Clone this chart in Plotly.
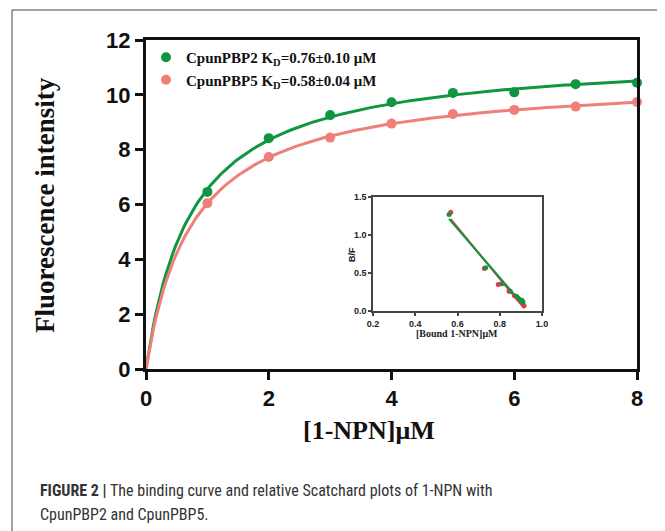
import numpy as np
import plotly.graph_objects as go

# ---- data ----
conc = [1, 2, 3, 4, 5, 6, 7, 8]
pbp2 = [6.46, 8.42, 9.26, 9.73, 10.07, 10.09, 10.39, 10.44]
pbp5 = [6.05, 7.73, 8.44, 8.95, 9.30, 9.45, 9.57, 9.74]

sc2_x = [0.560, 0.733, 0.810, 0.850, 0.880, 0.886, 0.905, 0.910]
sc2_y = [1.27, 0.57, 0.36, 0.26, 0.19, 0.17, 0.14, 0.12]
sc5_x = [0.568, 0.727, 0.793, 0.844, 0.870, 0.890, 0.905, 0.915]
sc5_y = [1.30, 0.56, 0.35, 0.26, 0.20, 0.16, 0.12, 0.07]

name2 = "CpunPBP2 K<sub>D</sub>=0.76±0.10 μM"
name5 = "CpunPBP5 K<sub>D</sub>=0.58±0.04 μM"

GREEN = "#0e9640"
PINK = "#ef7f78"
RED = "#e8344e"

OFF = 8  # page body margin
W, H = 665 - OFF, 531 - OFF


def px_x(p):
    return (p - OFF) / W


def px_y(p):
    return 1 - (p - OFF) / H


def hyper_fit(x, y):
    x = np.asarray(x, float)
    y = np.asarray(y, float)
    best = None
    for k in np.arange(0.05, 3.0, 0.001):
        g = x / (k + x)
        b = (y * g).sum() / (g * g).sum()
        err = ((y - b * g) ** 2).sum()
        if best is None or err < best[0]:
            best = (err, k, b)
    return best[1], best[2]


xs = np.linspace(0, 8, 200)
fig = go.Figure()

for ys, col, nm in [(pbp2, GREEN, name2), (pbp5, PINK, name5)]:
    k, b = hyper_fit(conc, ys)
    fig.add_trace(go.Scatter(x=xs, y=b * xs / (k + xs), mode="lines",
                             line=dict(color=col, width=3), showlegend=False,
                             hoverinfo="skip", cliponaxis=False))
for ys, col, nm in [(pbp2, GREEN, name2), (pbp5, PINK, name5)]:
    fig.add_trace(go.Scatter(x=conc, y=ys, mode="markers", name=nm,
                             marker=dict(color=col, size=10), cliponaxis=False))

# inset scatchard
for sx, sy, col in [(sc5_x, sc5_y, RED), (sc2_x, sc2_y, GREEN)]:
    fig.add_trace(go.Scatter(x=sx, y=sy, mode="markers", xaxis="x2", yaxis="y2",
                             marker=dict(color=col, size=5), showlegend=False))
for sx, sy, col in [(sc5_x, sc5_y, RED), (sc2_x, sc2_y, GREEN)]:
    m, c = np.polyfit(sx, sy, 1)
    lx = np.array([min(sx), max(sx)])
    fig.add_trace(go.Scatter(x=lx, y=m * lx + c, mode="lines", xaxis="x2", yaxis="y2",
                             line=dict(color=col, width=2), showlegend=False))

tick_main = dict(family="Liberation Sans, Arial, sans-serif", size=22, color="#111", weight="bold")
tick_in = dict(family="Liberation Sans, Arial, sans-serif", size=9, color="#222", weight="bold")

fig.update_layout(
    template="none",
    width=W, height=H, autosize=False,
    margin=dict(l=0, r=0, t=0, b=0, pad=0),
    paper_bgcolor="white", plot_bgcolor="white",
    showlegend=True,
    legend=dict(x=px_x(146), y=px_y(41), xanchor="left", yanchor="top",
                bgcolor="rgba(0,0,0,0)", borderwidth=0, tracegroupgap=0,
                font=dict(family="Liberation Serif, Times New Roman, serif", size=15,
                          color="#111", weight="bold"),
                itemclick=False),
    xaxis=dict(domain=[px_x(146), px_x(637)], range=[0, 8], tickvals=[0, 2, 4, 6, 8],
               automargin=False,
               showgrid=False, zeroline=False, showline=True, linecolor="#111",
               linewidth=3, mirror=True, ticks="outside", ticklen=8, tickwidth=3,
               tickcolor="#111", tickfont=tick_main),
    yaxis=dict(domain=[px_y(369), px_y(40)], range=[0, 12],
               tickvals=[0, 2, 4, 6, 8, 10, 12], automargin=False,
               showgrid=False, zeroline=False, showline=True, linecolor="#111",
               linewidth=3, mirror=True, ticks="outside", ticklen=8, tickwidth=3,
               tickcolor="#111", tickfont=tick_main),
    xaxis2=dict(domain=[px_x(373), px_x(542)], range=[0.2, 1.0], anchor="y2",
                tickvals=[0.2, 0.4, 0.6, 0.8, 1.0], tickformat=".1f", automargin=False,
                showgrid=False, zeroline=False, showline=True, linecolor="#444",
                linewidth=1.5, mirror=True, ticks="outside", ticklen=3, tickwidth=1.5,
                tickcolor="#444", tickfont=tick_in),
    yaxis2=dict(domain=[px_y(311), px_y(197)], range=[0, 1.5], anchor="x2",
                tickvals=[0, 0.5, 1.0, 1.5], tickformat=".1f", automargin=False,
                showgrid=False, zeroline=False, showline=True, linecolor="#444",
                linewidth=1.5, mirror=True, ticks="outside", ticklen=3, tickwidth=1.5,
                tickcolor="#444", tickfont=tick_in),
)

serif_b = "Liberation Serif, Times New Roman, serif"
cap_font = "Liberation Sans Narrow, Arial Narrow, Roboto Condensed, sans-serif"
ann = [
    dict(text="Fluorescence intensity", x=px_x(45), y=px_y(205), textangle=-90,
         font=dict(family=serif_b, size=27, color="#111", weight="bold")),
    dict(text="[1-NPN]μM", x=px_x(369), y=px_y(430),
         font=dict(family=serif_b, size=26, color="#111", weight="bold")),
    dict(text="B/F", x=px_x(352), y=px_y(255), textangle=-90,
         font=dict(family="Liberation Sans, Arial, sans-serif", size=9, color="#222", weight="bold")),
    dict(text="[Bound 1-NPN]μM", x=px_x(457), y=px_y(333),
         font=dict(family=serif_b, size=10, color="#222", weight="bold")),
    dict(text="<b>FIGURE 2 |</b> The binding curve and relative Scatchard plots of 1-NPN with",
         x=px_x(38), y=px_y(490), xanchor="left",
         font=dict(family=cap_font, size=16, color="#333")),
    dict(text="CpunPBP2 and CpunPBP5.",
         x=px_x(38), y=px_y(514), xanchor="left",
         font=dict(family=cap_font, size=16, color="#333")),
]
for a in ann:
    a.setdefault("xanchor", "center")
    a.update(xref="paper", yref="paper", yanchor="middle", showarrow=False)
fig.update_layout(annotations=ann)

fig.update_layout(shapes=[
    dict(type="line", xref="paper", yref="paper", x0=px_x(12), x1=1.0,
         y0=px_y(10), y1=px_y(10), line=dict(color="#444", width=1)),
    dict(type="line", xref="paper", yref="paper", x0=px_x(12), x1=px_x(12),
         y0=px_y(10), y1=0, line=dict(color="#444", width=1)),
])

fig.write_html("out.html")
